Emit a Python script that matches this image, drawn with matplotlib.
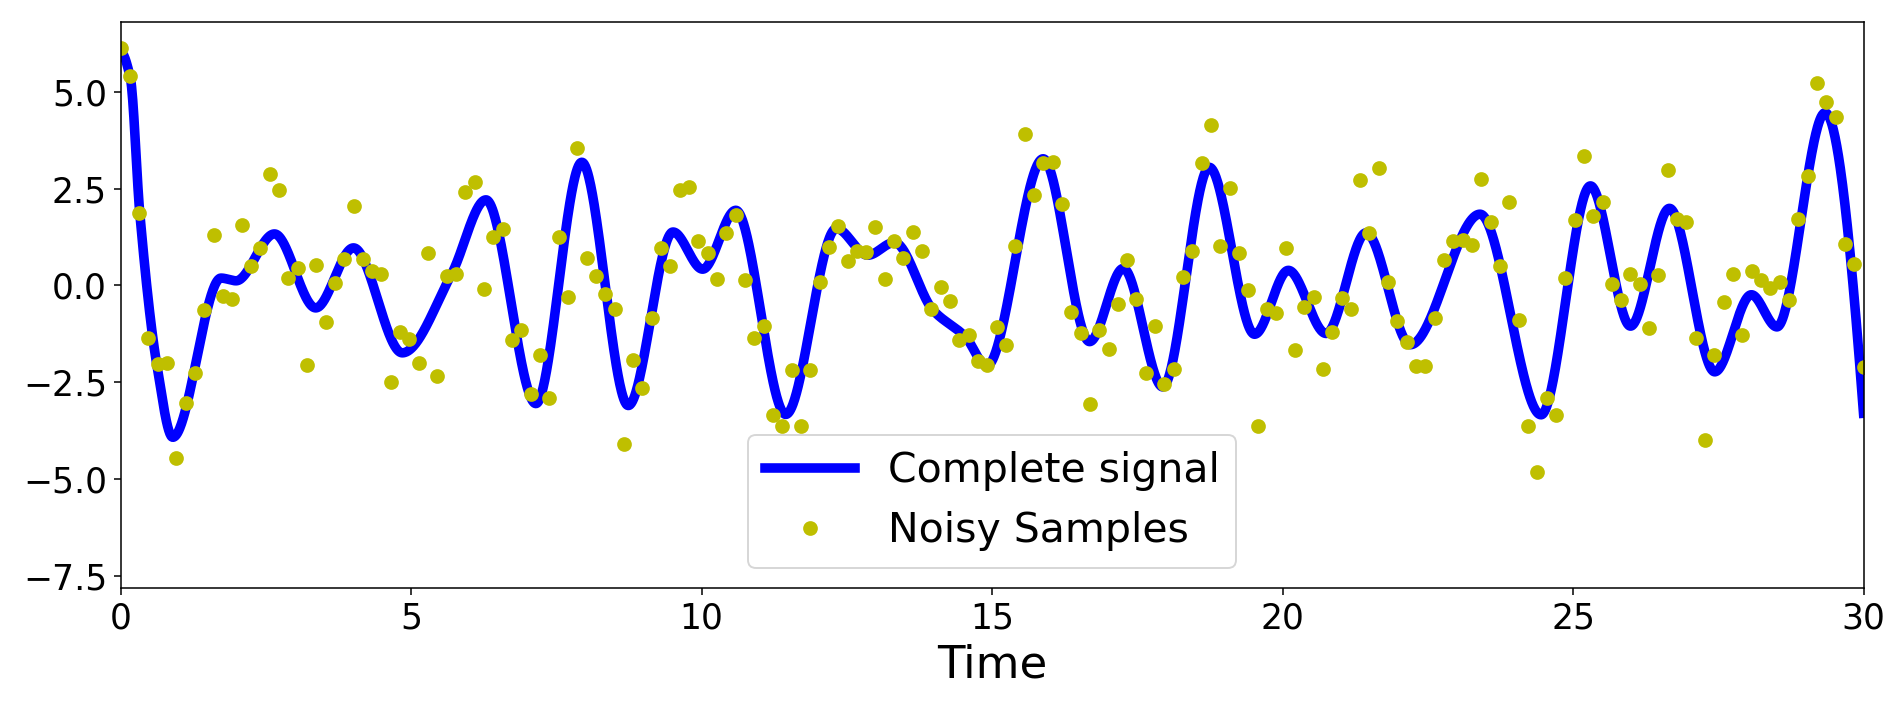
import numpy as np
import matplotlib
matplotlib.use("Agg")
import matplotlib.pyplot as plt
from matplotlib.ticker import MultipleLocator

# ---- data ----
# Noisy samples (evenly spaced in time over [0, 30])
sample_values = [
    6.13, 5.40, 1.86, -1.36, -2.03, -2.00, -4.46, -3.03, -2.25, -0.63,
    1.31, -0.27, -0.34, 1.57, 0.51, 0.96, 2.88, 2.47, 0.19, 0.46,
    -2.06, 0.53, -0.95, 0.07, 0.68, 2.04, 0.67, 0.38, 0.29, -2.50,
    -1.21, -1.38, -1.99, 0.85, -2.34, 0.24, 0.29, 2.42, 2.66, -0.08,
    1.26, 1.45, -1.41, -1.14, -2.81, -1.79, -2.91, 1.26, -0.31, 3.56,
    0.71, 0.24, -0.23, -0.60, -4.10, -1.92, -2.64, -0.83, 0.97, 0.49,
    2.47, 2.53, 1.15, 0.85, 0.16, 1.36, 1.81, 0.15, -1.36, -1.05,
    -3.35, -3.63, -2.18, -3.63, -2.18, 0.10, 0.99, 1.53, 0.63, 0.89,
    0.87, 1.50, 0.17, 1.14, 0.72, 1.38, 0.90, -0.61, -0.05, -0.41,
    -1.40, -1.29, -1.96, -2.05, -1.07, -1.55, 1.02, 3.91, 2.33, 3.15,
    3.20, 2.10, -0.68, -1.23, -3.05, -1.14, -1.63, -0.47, 0.65, -0.34,
    -2.26, -1.04, -2.54, -2.15, 0.22, 0.89, 3.15, 4.14, 1.02, 2.51,
    0.83, -0.13, -3.63, -0.61, -0.71, 0.97, -1.67, -0.55, -0.31, -2.16,
    -1.19, -0.33, -0.61, 2.73, 1.36, 3.03, 0.08, -0.92, -1.47, -2.09,
    -2.09, -0.85, 0.66, 1.16, 1.18, 1.05, 2.74, 1.63, 0.50, 2.15,
    -0.90, -3.63, -4.82, -2.91, -3.35, 0.19, 1.70, 3.34, 1.79, 2.16,
    0.04, -0.37, 0.29, 0.04, -1.11, 0.27, 2.99, 1.72, 1.64, -1.36,
    -4.00, -1.79, -0.42, 0.29, -1.27, 0.36, 0.15, -0.07, 0.08, -0.37,
    1.72, 2.82, 5.22, 4.73, 4.36, 1.08, 0.55, -2.10,
]
sample_times = np.linspace(0, 30, len(sample_values))

# Complete signal: points (peaks, troughs, shoulders)
curve_t = [0.00, 0.17, 0.333, 0.62, 0.90, 1.73, 1.99, 2.65, 3.36, 4.01,
           4.85, 5.70, 6.29, 7.15, 7.94, 8.74, 9.51, 10.02, 10.59, 11.45,
           12.32, 12.86, 13.32, 13.98, 14.55, 14.91, 15.88, 16.68, 17.26, 17.94,
           18.74, 19.52, 20.10, 20.75, 21.44, 22.20, 23.40, 24.45, 25.30, 25.99,
           26.66, 27.44, 28.07, 28.51, 29.34, 30.00]
curve_y = [6.03, 5.35, 1.85, -2.00, -3.92, 0.19, 0.12, 1.33, -0.58, 0.97,
           -1.74, 0.30, 2.21, -3.05, 3.18, -3.10, 1.38, 0.42, 1.94, -3.33,
           1.47, 0.78, 1.11, -0.63, -1.34, -2.08, 3.27, -1.45, 0.44, -2.62,
           3.05, -1.26, 0.39, -1.24, 1.36, -1.53, 1.84, -3.34, 2.57, -1.05,
           1.99, -2.23, -0.24, -1.07, 4.46, -3.30]


def pchip(xk, yk, x):
    """Shape-preserving piecewise cubic curve through the read points."""
    xk = np.asarray(xk, float)
    yk = np.asarray(yk, float)
    h = np.diff(xk)
    d = np.diff(yk) / h
    n = len(xk)
    m = np.zeros(n)
    for k in range(1, n - 1):
        if d[k - 1] * d[k] > 0:
            w1 = 2 * h[k] + h[k - 1]
            w2 = h[k] + 2 * h[k - 1]
            m[k] = (w1 + w2) / (w1 / d[k - 1] + w2 / d[k])

    def end(h0, h1, d0, d1):
        v = ((2 * h0 + h1) * d0 - h0 * d1) / (h0 + h1)
        if np.sign(v) != np.sign(d0):
            v = 0.0
        elif np.sign(d0) != np.sign(d1) and abs(v) > abs(3 * d0):
            v = 3 * d0
        return v

    m[0] = 0.0  # curve starts at a maximum
    m[-1] = end(h[-1], h[-2], d[-1], d[-2])
    idx = np.clip(np.searchsorted(xk, x) - 1, 0, n - 2)
    t = (x - xk[idx]) / h[idx]
    h00 = 2 * t**3 - 3 * t**2 + 1
    h10 = t**3 - 2 * t**2 + t
    h01 = -2 * t**3 + 3 * t**2
    h11 = t**3 - t**2
    return (h00 * yk[idx] + h10 * h[idx] * m[idx]
            + h01 * yk[idx + 1] + h11 * h[idx] * m[idx + 1])


s = 1.38  # scale factor for line widths / lengths (points)
plt.rcParams.update({
    "font.family": "DejaVu Sans",
    "axes.linewidth": 0.8 * s,
    "xtick.major.size": 3.5 * s,
    "ytick.major.size": 3.5 * s,
    "xtick.major.width": 0.8 * s,
    "ytick.major.width": 0.8 * s,
    "xtick.major.pad": 3.5 * s,
    "ytick.major.pad": 3.5 * s,
})

fig = plt.figure(figsize=(19.04, 7.08), dpi=100)
ax = fig.add_axes([120.5 / 1904, 1 - 588.3 / 708, (1863.5 - 120.5) / 1904, (588.3 - 21.7) / 708])

t_dense = np.linspace(0, 30, 3000)
ax.plot(t_dense, pchip(curve_t, curve_y, t_dense), color="b", lw=6.9,
        label="Complete signal")
ax.plot(sample_times, sample_values, "o", color="y", ms=9.2, mew=1.38,
        label="Noisy Samples")

ax.set_xlim(0, 30)
ax.set_ylim(-7.82, 6.81)
ax.xaxis.set_major_locator(MultipleLocator(5))
ax.yaxis.set_major_locator(MultipleLocator(2.5))
ax.tick_params(labelsize=24.9)
ax.set_xlabel("Time", fontsize=32.4, labelpad=4 * s)

leg = ax.legend(loc="lower center", fontsize=29.5, handlelength=2.2)
leg.get_frame().set_linewidth(1.0 * s)

fig.savefig("out.png", dpi=100)
